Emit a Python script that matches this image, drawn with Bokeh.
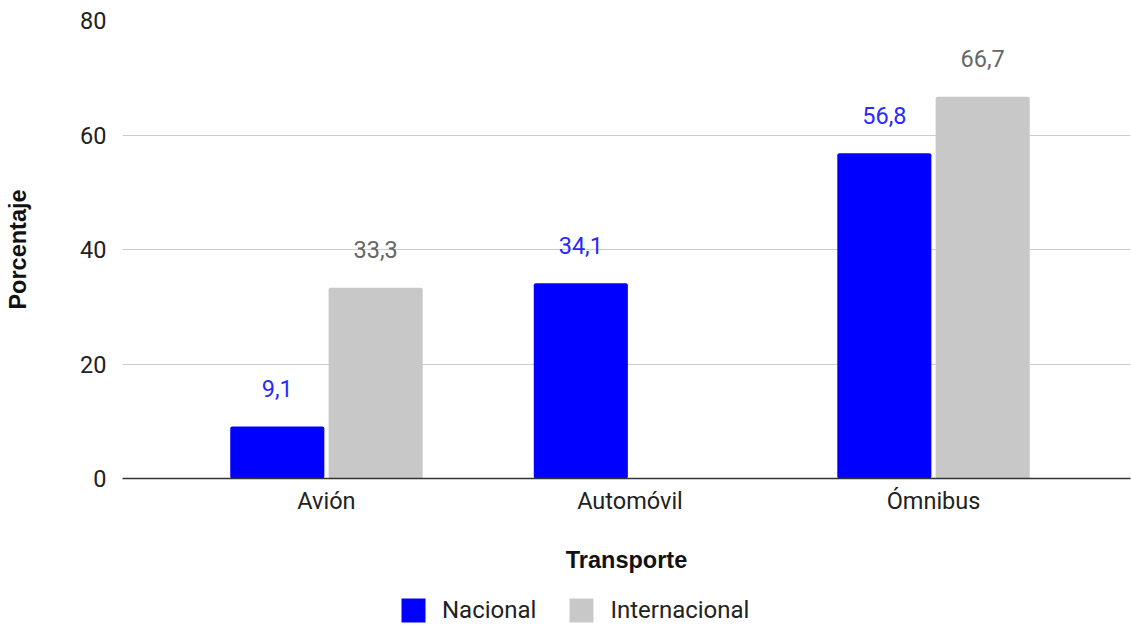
from bokeh.plotting import figure
from bokeh.layouts import column
from bokeh.models import Range1d, FixedTicker, ColumnDataSource, Legend, LegendItem
from bokeh.embed import file_html
from bokeh.resources import INLINE
from bokeh.core.properties import value
import numpy as np

categories = ["Avión", "Automóvil", "Ómnibus"]
nacional = [9.1, 34.1, 56.8]
internacional = [33.3, None, 66.7]
y_ticks = [0, 20, 40, 60, 80]
series_names = ["Nacional", "Internacional"]

BLUE = "#0000ff"
GRAY = "#c8c8c8"
FONT = "Roboto"
TFONT = "Liberation Sans"
FS = "23.5px"

xs = np.arange(len(categories))
p = figure(width=1131, height=580, output_backend="svg", toolbar_location=None,
           x_range=Range1d(-0.672, 2.649), y_range=Range1d(0, 80),
           min_border_left=122, min_border_right=1, min_border_top=20, min_border_bottom=102)
p.outline_line_color = None

def fmt(v):
    return "" if v is None else f"{v:.1f}".replace(".", ",")

off = 0.162
w = 0.31
src_n = ColumnDataSource(dict(x=xs - off, top=nacional, lab=[fmt(v) for v in nacional]))
vals_i = [np.nan if v is None else v for v in internacional]
src_i = ColumnDataSource(dict(x=xs + off, top=vals_i, lab=[fmt(v) for v in internacional]))

p.vbar(x="x", top="top", width=w, source=src_n, fill_color=BLUE, line_color=None, border_radius=2)
p.vbar(x="x", top="top", width=w, source=src_i, fill_color=GRAY, line_color=None, border_radius=2)

p.text(x="x", y="top", text="lab", source=src_n, text_color="#2a2aff", text_align="center",
       text_baseline="middle", y_offset=-38, text_font=value(FONT), text_font_size=FS)
p.text(x="x", y="top", text="lab", source=src_i, text_color="#666666", text_align="center",
       text_baseline="middle", y_offset=-38, text_font=value(FONT), text_font_size=FS)

# axes
p.xaxis.ticker = FixedTicker(ticks=list(xs))
p.xaxis.major_label_overrides = {int(i): c for i, c in zip(xs, categories)}
p.xaxis.axis_line_color = "#333333"
p.xaxis.axis_line_width = 1.5
p.xaxis.major_tick_line_color = None
p.xaxis.minor_tick_line_color = None
p.xaxis.major_label_standoff = 2
p.xaxis.major_label_text_font = FONT
p.xaxis.major_label_text_font_size = FS
p.xaxis.major_label_text_color = "#222222"
p.xaxis.axis_label = "Transporte"
p.xaxis.axis_label_text_font = TFONT
p.xaxis.axis_label_text_font_size = FS
p.xaxis.axis_label_text_font_style = "bold"
p.xaxis.axis_label_text_color = "#111111"
p.xaxis.axis_label_standoff = 29

p.yaxis.ticker = FixedTicker(ticks=y_ticks)
p.yaxis.axis_line_color = None
p.yaxis.major_tick_line_color = None
p.yaxis.minor_tick_line_color = None
p.yaxis.major_label_standoff = 10
p.yaxis.major_label_text_font = FONT
p.yaxis.major_label_text_font_size = FS
p.yaxis.major_label_text_color = "#222222"
p.yaxis.axis_label = "Porcentaje"
p.yaxis.axis_label_text_font = TFONT
p.yaxis.axis_label_text_font_size = FS
p.yaxis.axis_label_text_font_style = "bold"
p.yaxis.axis_label_text_color = "#111111"
p.yaxis.axis_label_standoff = 46

p.xgrid.grid_line_color = None
p.ygrid.grid_line_color = "#cccccc"
p.ygrid.grid_line_width = 1

# legend strip below the chart (its frame is aligned with the main frame)
p2 = figure(width=1131, height=45, output_backend="svg", toolbar_location=None,
            x_range=Range1d(0, 1), y_range=Range1d(0, 1),
            min_border_left=122, min_border_right=1, min_border_top=0, min_border_bottom=0)
p2.axis.visible = False
p2.grid.visible = False
p2.outline_line_color = None
hidden = dict(x=[0.5], top=[0])
l1 = p2.vbar(x="x", top="top", width=0.01, source=ColumnDataSource(hidden),
             fill_color=BLUE, line_color=None, border_radius=2)
l2 = p2.vbar(x="x", top="top", width=0.01, source=ColumnDataSource(hidden),
             fill_color=GRAY, line_color=None, border_radius=2)
legend = Legend(items=[LegendItem(label=series_names[0], renderers=[l1]),
                       LegendItem(label=series_names[1], renderers=[l2])],
                orientation="horizontal", location=(276, 0),
                glyph_width=30, glyph_height=30, label_standoff=14, spacing=30,
                label_text_font=FONT, label_text_font_size="24px", label_text_color="#222222",
                border_line_color=None, background_fill_alpha=0, padding=0, margin=0)
p2.add_layout(legend, "center")

open("out.html", "w").write(file_html(column(p, p2, spacing=0), INLINE))
